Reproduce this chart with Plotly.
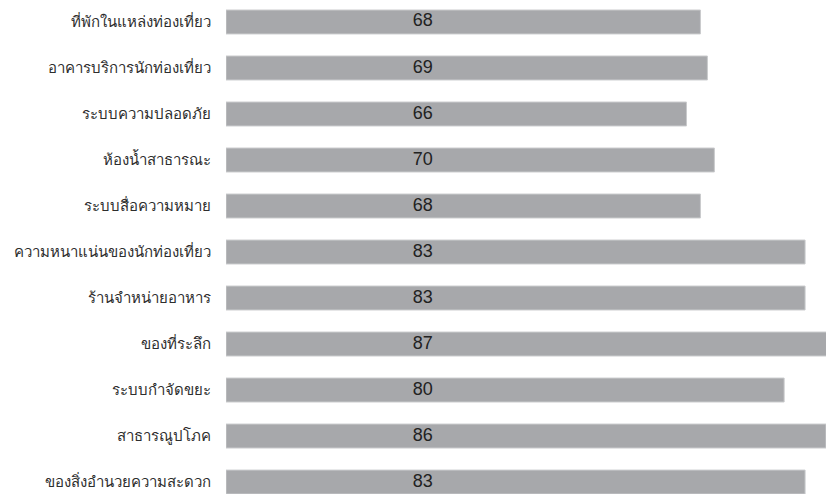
import plotly.graph_objects as go

categories = [
    "ที่พักในแหล่งท่องเที่ยว",
    "อาคารบริการนักท่องเที่ยว",
    "ระบบความปลอดภัย",
    "ห้องน้ำสาธารณะ",
    "ระบบสื่อความหมาย",
    "ความหนาแน่นของนักท่องเที่ยว",
    "ร้านจำหน่ายอาหาร",
    "ของที่ระลึก",
    "ระบบกำจัดขยะ",
    "สาธารณูปโภค",
    "ของสิ่งอำนวยความสะดวก",
]
values = [68, 69, 66, 70, 68, 83, 83, 87, 80, 86, 83]
value_labels = [str(v) for v in values]

LABEL_X = 28.2  # fixed horizontal position for value labels (axis units)

fig = go.Figure()
fig.add_trace(go.Bar(
    x=values,
    y=categories,
    orientation="h",
    marker=dict(color="#a7a8ab", line=dict(color="#c9cacc", width=1)),
    hoverinfo="x+y",
))
fig.add_trace(go.Scatter(
    x=[LABEL_X] * len(categories),
    y=categories,
    mode="text",
    text=value_labels,
    textposition="middle center",
    textfont=dict(family="Liberation Sans, Arial, sans-serif", size=18, color="#222222"),
    hoverinfo="skip",
))

fig.update_layout(
    width=826,
    height=494,
    margin=dict(l=226, r=0, t=0, b=0),
    paper_bgcolor="white",
    plot_bgcolor="white",
    showlegend=False,
    bargap=0.48,
    font=dict(family="Liberation Sans, Noto Sans, sans-serif", size=15, color="#2e2e2e"),
)
fig.update_xaxes(
    range=[0, 86],
    showgrid=False,
    zeroline=False,
    showticklabels=False,
    showline=False,
    fixedrange=True,
    automargin=False,
)
fig.update_yaxes(
    type="category",
    categoryorder="array",
    categoryarray=categories,
    range=[10.26, -0.478],
    showgrid=False,
    zeroline=False,
    showline=False,
    ticks="",
    ticklabelstandoff=14,
    automargin=False,
    tickfont=dict(size=15, color="#2e2e2e"),
)

fig.write_html(
    "out.html",
    config={"displayModeBar": False},
    post_script="document.body.style.margin='0';document.body.style.overflow='hidden';",
)
